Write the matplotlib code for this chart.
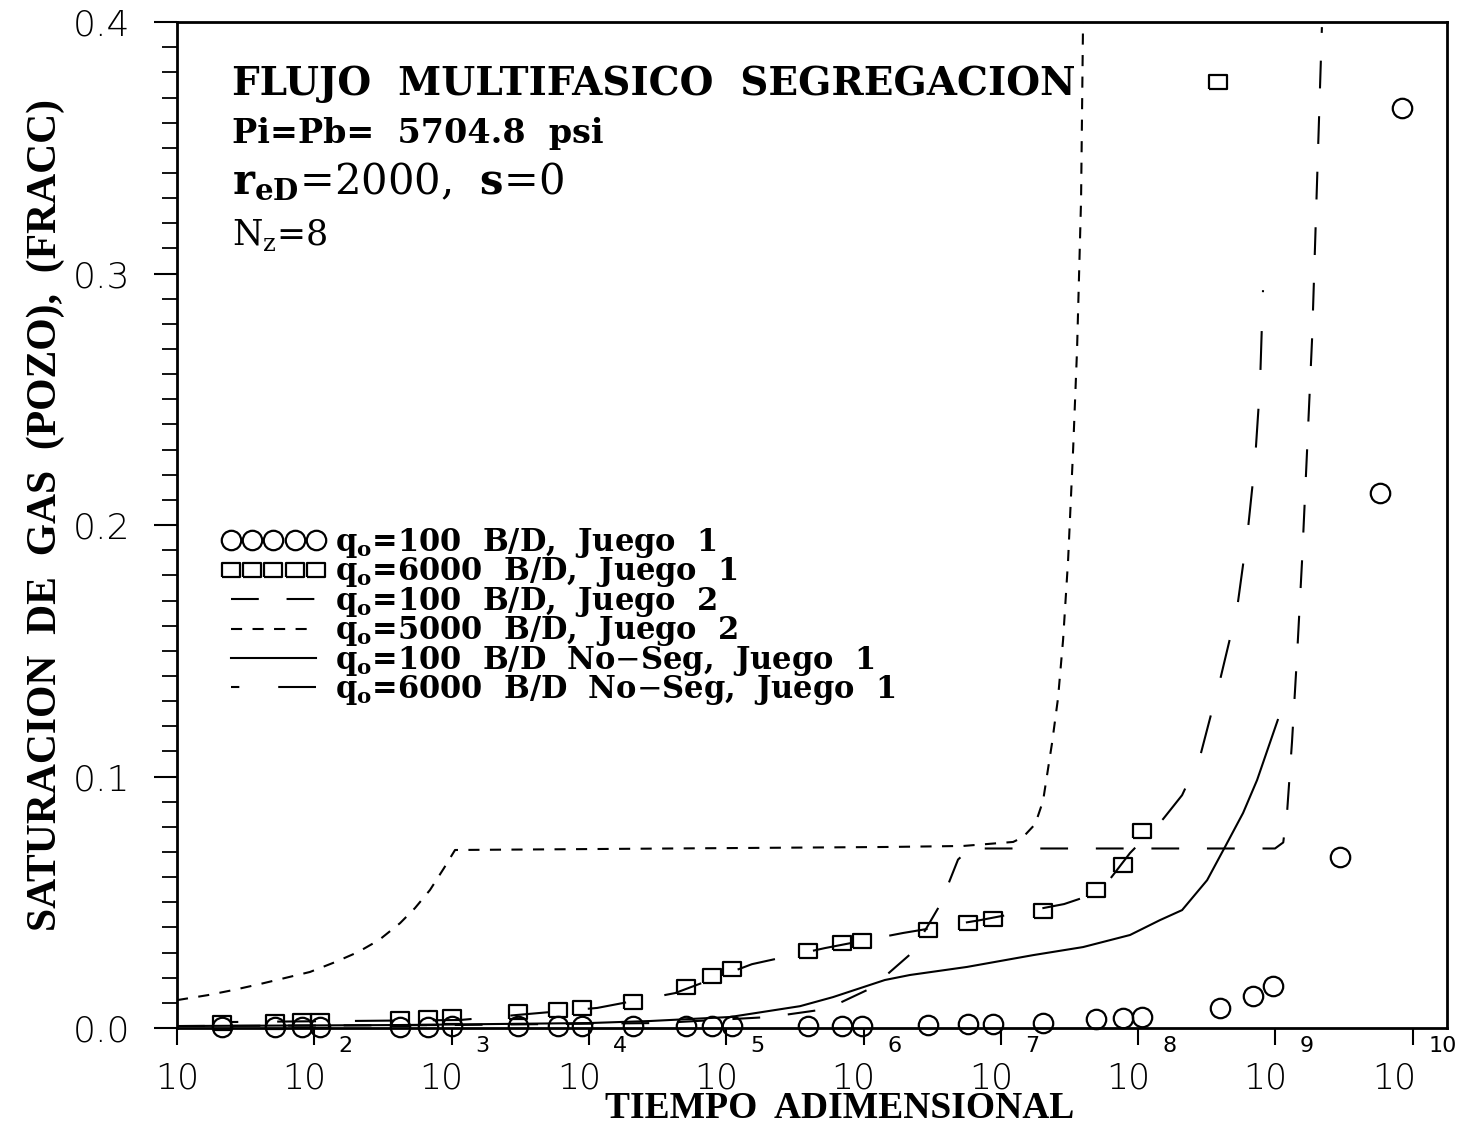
"""Saturacion de gas en el pozo vs tiempo adimensional (flujo multifasico con segregacion)."""
import numpy as np
import matplotlib
matplotlib.use("Agg")
import matplotlib.pyplot as plt
from matplotlib.transforms import blended_transform_factory, ScaledTranslation
from matplotlib.ticker import FixedLocator, LogLocator, NullFormatter, MultipleLocator, FormatStrFormatter

plt.rcParams["lines.scale_dashes"] = False
plt.rcParams["mathtext.fontset"] = "custom"
plt.rcParams["mathtext.rm"] = "DejaVu Serif"
plt.rcParams["mathtext.bf"] = "DejaVu Serif:bold"

# --- corridas con simulador (Juego 1) ---
t_q100_j1 = [21.3, 51.7, 81.4, 110, 421, 673, 1007, 3045, 5956, 8905, 2.10e4, 5.10e4,
             7.88e4, 1.10e5, 3.94e5, 6.97e5, 9.75e5, 2.95e6, 5.77e6, 8.78e6, 2.03e7,
             4.94e7, 7.76e7, 1.07e8, 3.95e8, 6.87e8, 9.60e8, 2.95e9, 5.78e9, 8.36e9]
sg_q100_j1 = [0.0005, 0.0005, 0.0005, 0.0006, 0.0006, 0.0006, 0.0007, 0.0007, 0.0008,
              0.0008, 0.0008, 0.0008, 0.0008, 0.0009, 0.0009, 0.0009, 0.0010, 0.0012,
              0.0016, 0.0016, 0.0022, 0.0034, 0.0040, 0.0044, 0.0080, 0.0128, 0.0168,
              0.0682, 0.2126, 0.3657]

t_q6000_j1 = [21.3, 51.7, 81.4, 110, 421, 673, 1007, 3045, 5956, 8905, 2.10e4, 5.10e4,
              7.88e4, 1.10e5, 3.94e5, 6.97e5, 9.75e5, 2.95e6, 5.77e6, 8.78e6, 2.03e7,
              4.94e7, 7.76e7, 1.07e8, 3.82e8]
sg_q6000_j1 = [0.0020, 0.0024, 0.0028, 0.0030, 0.0036, 0.0040, 0.0044, 0.0064, 0.0072,
               0.0080, 0.0104, 0.0164, 0.0207, 0.0235, 0.0307, 0.0339, 0.0347, 0.0391,
               0.0419, 0.0435, 0.0467, 0.0550, 0.0650, 0.0782, 0.376]

# --- Juego 2 ---
t_q100_j2 = [10, 973, 3.29e4, 2.08e5, 5.42e5, 1.15e6, 2.26e6, 3.61e6, 4.88e6, 5.97e6,
             5.28e7, 9.93e8, 1.14e9, 1.22e9, 1.32e9, 1.44e9, 1.56e9, 1.70e9, 1.85e9,
             1.94e9, 2.18e9]
sg_q100_j2 = [0.0008, 0.0012, 0.0020, 0.0044, 0.0076, 0.0160, 0.0300, 0.0490, 0.0670,
              0.0714, 0.0714, 0.0714, 0.0738, 0.0870, 0.1137, 0.1490, 0.1850, 0.2297,
              0.2744, 0.3100, 0.3980]

t_q5000_j2 = [10, 16.8, 25.6, 40.2, 61.2, 93.0, 141.5, 208, 296, 421, 541, 696, 880, 1059,
              1.2e4, 1.48e6, 5.3e6, 1.23e7, 1.45e7, 1.78e7, 2.03e7, 2.36e7, 2.61e7, 2.84e7,
              3.09e7, 3.36e7, 3.59e7, 3.84e7, 3.97e7]
sg_q5000_j2 = [0.0111, 0.0131, 0.0151, 0.0175, 0.0199, 0.0223, 0.0262, 0.0302, 0.0350,
               0.0417, 0.0477, 0.0549, 0.0636, 0.0708, 0.0712, 0.0720, 0.0724, 0.0740,
               0.0759, 0.0811, 0.0903, 0.1133, 0.1312, 0.1543, 0.1861, 0.2298, 0.2696,
               0.3292, 0.4000]

# --- sin segregacion (Juego 1) ---
t_q100_ns = [10, 421, 1.02e4, 2.79e4, 1.07e5, 3.45e5, 5.99e5, 1.43e6, 2.18e6, 5.67e6,
             1.72e7, 3.97e7, 8.73e7, 1.44e8, 2.09e8, 3.18e8, 4.29e8, 5.81e8, 7.35e8, 1.04e9]
sg_q100_ns = [0.0008, 0.0012, 0.0020, 0.0028, 0.0044, 0.0087, 0.0123, 0.0191, 0.0211,
              0.0243, 0.0290, 0.0322, 0.0370, 0.0429, 0.0469, 0.0588, 0.0720, 0.0855,
              0.0986, 0.1225]

t_q6000_ns = [24.3, 1151, 2994, 1.15e4, 4.24e4, 1.54e5, 5.24e5, 1.94e6, 7.06e6, 2.89e7,
              5.28e7, 8.73e7, 1.52e8, 2.09e8, 2.82e8, 3.95e8, 5.25e8, 6.32e8, 7.10e8,
              7.72e8, 8.12e8]
sg_q6000_ns = [0.0024, 0.0032, 0.0052, 0.0080, 0.0139, 0.0254, 0.0318, 0.0378, 0.0429,
               0.0493, 0.0541, 0.0696, 0.0831, 0.0926, 0.1078, 0.1384, 0.1666, 0.1988,
               0.2254, 0.2557, 0.2934]

exponentes = list(range(1, 11))

etiquetas = [r"$\mathbf{q_o}$=100  B/D,  Juego  1",
             r"$\mathbf{q_o}$=6000  B/D,  Juego  1",
             r"$\mathbf{q_o}$=100  B/D,  Juego  2",
             r"$\mathbf{q_o}$=5000  B/D,  Juego  2",
             r"$\mathbf{q_o}$=100  B/D  No$-$Seg,  Juego  1",
             r"$\mathbf{q_o}$=6000  B/D  No$-$Seg,  Juego  1"]

SERIF = "DejaVu Serif"
rect = [(-1, -0.8), (1, -0.8), (1, 0.8), (-1, 0.8), (-1, -0.8)]

fig = plt.figure(figsize=(14.58, 11.27), dpi=100)
ax = fig.add_axes([0.1214, 0.0878, 0.8711, 0.8926])

h1, = ax.plot(t_q100_j1, sg_q100_j1, ls="none", marker="o", ms=14, mfc="none",
              mec="black", mew=1.6, clip_on=False, zorder=4)
h2, = ax.plot(t_q6000_j1, sg_q6000_j1, ls="none", marker=rect, ms=12.5, mfc="none",
              mec="black", mew=1.6, clip_on=False, zorder=4)
h3, = ax.plot(t_q100_j2, sg_q100_j2, color="black", lw=1.5, ls=(0, (20, 20)))
h4, = ax.plot(t_q5000_j2, sg_q5000_j2, color="black", lw=1.5, ls=(0, (8, 7.5)))
h5, = ax.plot(t_q100_ns, sg_q100_ns, color="black", lw=1.5, ls="-")
h6, = ax.plot(t_q6000_ns, sg_q6000_ns, color="black", lw=1.5, ls=(22, (28, 28)))

ax.set_xscale("log")
ax.set_xlim(10, 10 ** 10.25)
ax.set_ylim(0, 0.4)

ax.xaxis.set_major_locator(FixedLocator([10.0 ** e for e in exponentes]))
ax.xaxis.set_minor_locator(LogLocator(base=10, subs=np.arange(2, 10)))
ax.xaxis.set_minor_formatter(NullFormatter())
ax.tick_params(axis="x", which="both", labelbottom=False)

# etiquetas del eje x: "10" con el exponente elevado
blend = blended_transform_factory(ax.transData, ax.transAxes)
for e in exponentes:
    x = 10.0 ** e
    if e == 1:
        ax.text(x, -0.0596, "10", transform=blend, ha="center", va="baseline",
                fontfamily="DejaVu Sans", fontweight="light", fontsize=25)
        continue
    d = -8 if e >= 10 else 0
    t_base = blend + ScaledTranslation((12 + d) / 100, 0, fig.dpi_scale_trans)
    t_exp = blend + ScaledTranslation((24 + d) / 100, 0, fig.dpi_scale_trans)
    ax.text(x, -0.0596, "10", transform=t_base, ha="right", va="baseline",
            fontfamily="DejaVu Sans", fontweight="light", fontsize=25)
    ax.text(x, -0.0239, str(e), transform=t_exp, ha="left", va="baseline",
            fontfamily="DejaVu Sans", fontsize=16)

ax.yaxis.set_major_locator(MultipleLocator(0.1))
ax.yaxis.set_minor_locator(MultipleLocator(0.01))
ax.yaxis.set_major_formatter(FormatStrFormatter("%.1f"))
for lab in ax.get_yticklabels():
    lab.set_fontfamily("DejaVu Sans")
    lab.set_fontsize(26)
    lab.set_fontweight("light")

ax.tick_params(axis="x", which="major", direction="out", length=12, width=1.5, top=False)
ax.tick_params(axis="x", which="minor", direction="out", length=7, width=1.5, top=False)
ax.tick_params(axis="y", which="major", direction="out", length=16.5, width=1.5, pad=17,
               right=False)
ax.tick_params(axis="y", which="minor", direction="out", length=11, width=1.3, right=False)
for s in ax.spines.values():
    s.set_linewidth(2)

ax.set_ylabel("SATURACION  DE  GAS  (POZO),  (FRACC)", fontfamily="Liberation Serif",
              fontweight="bold", fontsize=30)
ax.yaxis.set_label_coords(-0.088, 0.51)
ax.set_xlabel("TIEMPO  ADIMENSIONAL", fontfamily="Liberation Serif", fontweight="bold",
              fontsize=27)
ax.xaxis.set_label_coords(0.522, -0.0625)

# rotulos del caso
ax.text(0.0433, 0.9274, "FLUJO  MULTIFASICO  SEGREGACION", transform=ax.transAxes,
        fontfamily=SERIF, fontweight="bold", fontsize=28, va="baseline")
ax.text(0.0433, 0.8797, "Pi=Pb=  5704.8  psi", transform=ax.transAxes,
        fontfamily=SERIF, fontweight="bold", fontsize=24, va="baseline")
ax.text(0.0433, 0.830, r"$\mathbf{r_{eD}}$=2000,  $\mathbf{s}$=0", transform=ax.transAxes,
        fontfamily=SERIF, fontsize=30, va="baseline")
ax.text(0.0433, 0.778, r"N$_\mathregular{z}$=8", transform=ax.transAxes,
        fontfamily=SERIF, fontsize=25, va="baseline")

leg = ax.legend([h1, h2, h3, h4, h5, h6], etiquetas, loc="upper left",
                bbox_to_anchor=(0.035, 0.499), frameon=False, numpoints=5,
                handlelength=3.4, handletextpad=0.3, labelspacing=-0.15,
                borderaxespad=0, borderpad=0,
                prop={"family": SERIF, "weight": "bold", "size": 22})

fig.savefig("out.png", dpi=100)
